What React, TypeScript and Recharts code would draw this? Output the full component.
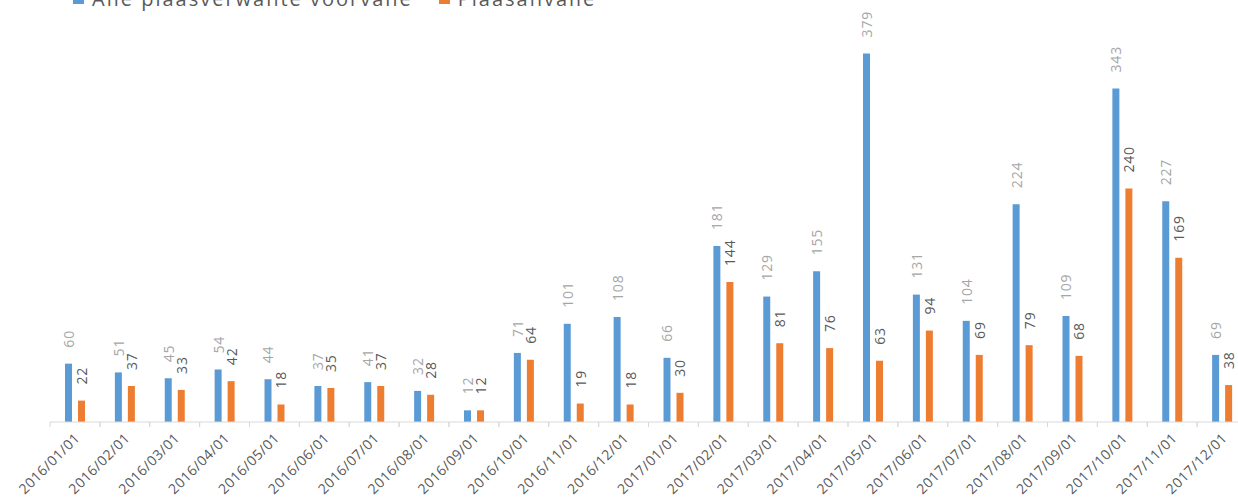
import { BarChart, Bar, XAxis, YAxis, LabelList } from "recharts";

const months = [
	"2016/01/01", "2016/02/01", "2016/03/01", "2016/04/01", "2016/05/01", "2016/06/01",
	"2016/07/01", "2016/08/01", "2016/09/01", "2016/10/01", "2016/11/01", "2016/12/01",
	"2017/01/01", "2017/02/01", "2017/03/01", "2017/04/01", "2017/05/01", "2017/06/01",
	"2017/07/01", "2017/08/01", "2017/09/01", "2017/10/01", "2017/11/01", "2017/12/01",
];

const allIncidents = [60, 51, 45, 54, 44, 37, 41, 32, 12, 71, 101, 108, 66, 181, 129, 155, 379, 131, 104, 224, 109, 343, 227, 69];
const farmAttacks = [22, 37, 33, 42, 18, 35, 37, 28, 12, 64, 19, 18, 30, 144, 81, 76, 63, 94, 69, 79, 68, 240, 169, 38];

const BLUE = "#5b9bd5";
const ORANGE = "#ed7d31";
const FONT = "'Open Sans', 'DejaVu Sans', sans-serif";

const data = months.map((m, i) => ({ month: m, all: allIncidents[i], attacks: farmAttacks[i] }));

const CHART_H = 499;
const XAXIS_H = 77;
const BASELINE = CHART_H - XAXIS_H;
const BAND = 1197 / 24;

// vertical value label above each bar
const makeLabel = (color: string) => (props: any) => {
	const { x, y, width, value } = props;
	const cx = x + width / 2;
	const ty = y - 16;
	return (
		<text
			x={cx}
			y={ty}
			transform={`rotate(-90, ${cx}, ${ty})`}
			textAnchor="start"
			dominantBaseline="central"
			fill={color}
			fontSize={14}
			fontFamily={FONT}
			letterSpacing={0.8}
		>
			{value}
		</text>
	);
};

const MonthTick = (props: any) => {
	const { x, payload } = props;
	const tx = x + 2;
	const ty = BASELINE + 13;
	return (
		<g>
			<line x1={x - BAND / 2} y1={BASELINE} x2={x - BAND / 2} y2={BASELINE + 5} stroke="#d9d9d9" />
			<line x1={x + BAND / 2} y1={BASELINE} x2={x + BAND / 2} y2={BASELINE + 5} stroke="#d9d9d9" />
			<text
				x={tx}
				y={ty}
				transform={`rotate(-45, ${tx}, ${ty})`}
				textAnchor="end"
				dominantBaseline="central"
				fill="#595959"
				fontSize={14}
				fontFamily={FONT}
				letterSpacing={0.5}
			>
				{payload.value}
			</text>
		</g>
	);
};

export default function App() {
	return (
		<div style={{ position: "absolute", left: 0, top: 0, width: 1238, height: 499, overflow: "hidden", background: "#fff" }}>
			<div
				style={{
					position: "absolute",
					left: 73,
					top: -15,
					display: "flex",
					fontFamily: FONT,
					fontSize: 20,
					letterSpacing: 2,
					color: "#595959",
					whiteSpace: "nowrap",
				}}
			>
				<div style={{ display: "flex", alignItems: "center" }}>
					<span style={{ width: 11, height: 11, background: BLUE, marginRight: 8 }} />
					<span>Alle plaasverwante voorvalle</span>
				</div>
				<div style={{ display: "flex", alignItems: "center", marginLeft: 26 }}>
					<span style={{ width: 11, height: 11, background: ORANGE, marginRight: 8 }} />
					<span>Plaasanvalle</span>
				</div>
			</div>
			<BarChart
				width={1260}
				height={CHART_H}
				data={data}
				margin={{ top: 33, right: 13, left: 50, bottom: 0 }}
				barSize={7}
				barGap={6}
			>
				<XAxis
					dataKey="month"
					axisLine={{ stroke: "#d9d9d9" }}
					tickLine={false}
					height={XAXIS_H}
					interval={0}
					tick={<MonthTick />}
				/>
				<YAxis hide domain={[0, 400]} />
				<Bar dataKey="all" name="Alle plaasverwante voorvalle" fill={BLUE} isAnimationActive={false}>
					<LabelList dataKey="all" content={makeLabel("#a6a6a6")} />
				</Bar>
				<Bar dataKey="attacks" name="Plaasanvalle" fill={ORANGE} isAnimationActive={false}>
					<LabelList dataKey="attacks" content={makeLabel("#595959")} />
				</Bar>
			</BarChart>
		</div>
	);
}
